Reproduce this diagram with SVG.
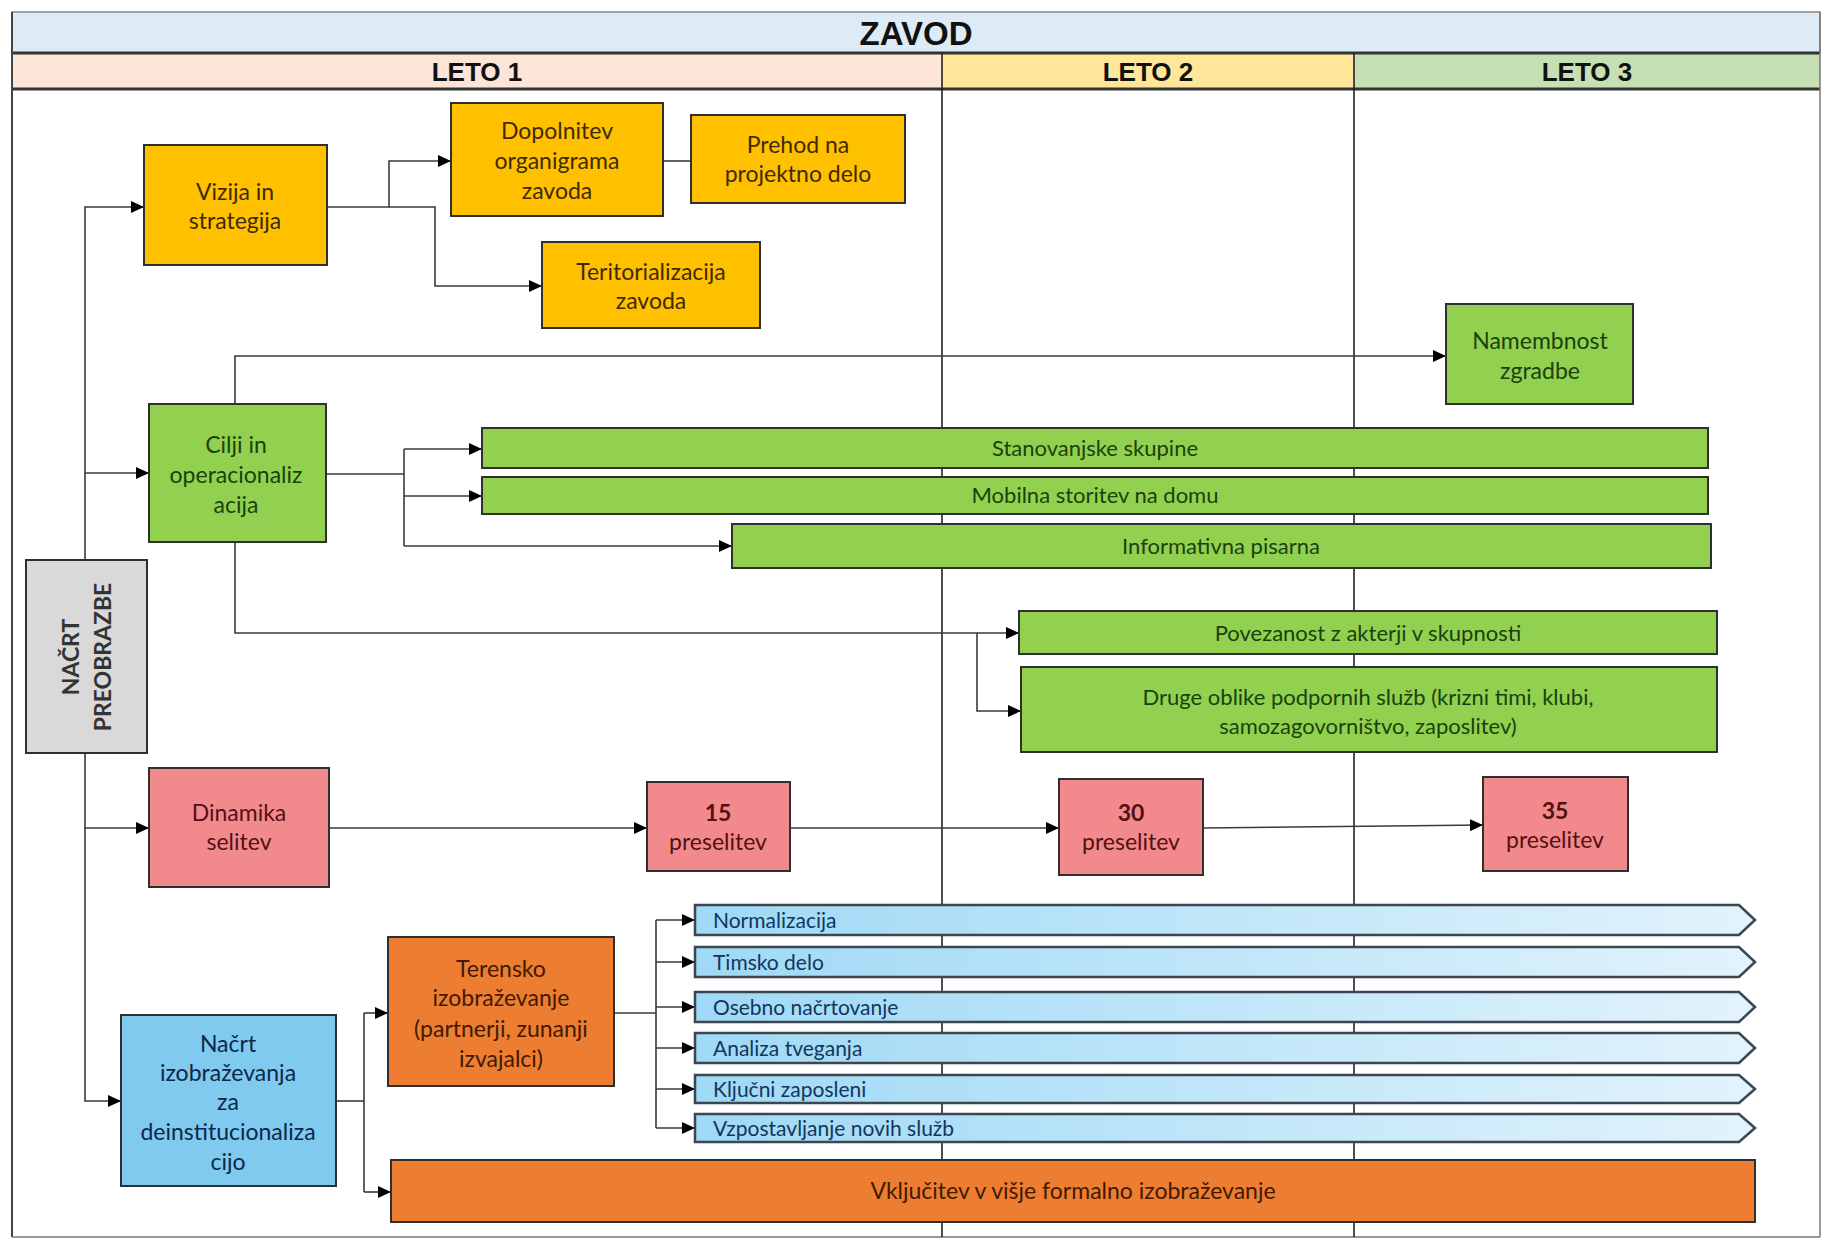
<svg xmlns="http://www.w3.org/2000/svg" width="1821" height="1239" viewBox="0 0 1821 1239">
<style>
.box{stroke:#2f2f2f;stroke-width:2}
.y{fill:#ffc000}
.g{fill:#92d050}
.p{fill:#f28a8d}
.o{fill:#ed7d31}
.b{fill:#80c9ef}
.gr{fill:#d9d9d9}
.t{font-family:Lato,"Open Sans",sans-serif;font-size:23px;text-anchor:middle}
.gt{font-size:22px}
.ty{fill:#3f2b00}
.tg{fill:#1a420c}
.tp{fill:#541013}
.to{fill:#421a00}
.tb{fill:#0b2848}
.bar{font-family:Lato,"Open Sans",sans-serif;font-size:21px;fill:#103660}
.hd{font-family:"Liberation Sans",Arial,sans-serif;font-weight:bold;text-anchor:middle;fill:#111}
.c{fill:none;stroke:#3a3a3a;stroke-width:1.6}
.ca{fill:none;stroke:#3a3a3a;stroke-width:1.6;marker-end:url(#ah)}
.grid{stroke:#222;stroke-width:1.6}
.arrowbar{fill:url(#bg);stroke:#3c4650;stroke-width:2.5}
</style>
<defs>
<marker id="ah" markerUnits="userSpaceOnUse" markerWidth="14" markerHeight="14" refX="13" refY="6" orient="auto">
<path d="M0,0 L13,6 L0,12 Z" fill="#000"/>
</marker>
<linearGradient id="bg" x1="0" y1="0" x2="1" y2="0">
<stop offset="0" stop-color="#9fd9f5"/>
<stop offset="1" stop-color="#e2f3fc"/>
</linearGradient>
</defs>
<rect x="0" y="0" width="1821" height="1239" fill="#fff"/>
<g id="header">
<rect x="12" y="12" width="1808" height="41" fill="#ddebf7" stroke="#888" stroke-width="1.5"/>
<text class="hd" x="916" y="45" font-size="33">ZAVOD</text>
<rect x="12" y="53" width="930" height="36" fill="#fce4d6"/>
<rect x="942" y="53" width="412" height="36" fill="#ffe699"/>
<rect x="1354" y="53" width="466" height="36" fill="#c6e0b4"/>
<line x1="12" y1="53" x2="1820" y2="53" stroke="#333" stroke-width="3"/>
<line x1="12" y1="89" x2="1820" y2="89" stroke="#333" stroke-width="3"/>
<text class="hd" x="477" y="81" font-size="26">LETO 1</text>
<text class="hd" x="1148" y="81" font-size="26">LETO 2</text>
<text class="hd" x="1587" y="81" font-size="26">LETO 3</text>
</g>
<g id="frame">
<line x1="12" y1="12" x2="12" y2="1237" stroke="#444" stroke-width="2"/>
<line x1="12" y1="1237" x2="1820" y2="1237" stroke="#777" stroke-width="1.5"/>
<line x1="1820" y1="12" x2="1820" y2="1237" stroke="#777" stroke-width="1.5"/>
<line class="grid" x1="942" y1="53" x2="942" y2="1237"/>
<line class="grid" x1="1354" y1="53" x2="1354" y2="1237"/>
</g>
<g id="connectors">
<path class="ca" d="M85,560 V207 H144"/>
<path class="ca" d="M85,473 H149"/>
<path class="ca" d="M85,753 V1101 H121"/>
<path class="ca" d="M85,828 H149"/>
<path class="ca" d="M327,207 H389 V161 H451"/>
<path class="ca" d="M389,207 H435 V286 H542"/>
<path class="c" d="M663,161 H691"/>
<path class="ca" d="M235,404 V356 H1446"/>
<path class="c" d="M326,474 H404"/>
<path class="c" d="M404,449 V546"/>
<path class="ca" d="M404,449 H482"/>
<path class="ca" d="M404,496 H482"/>
<path class="ca" d="M404,546 H732"/>
<path class="ca" d="M235,542 V633 H1019"/>
<path class="ca" d="M977,633 V711 H1021"/>
<path class="ca" d="M329,828 H647"/>
<path class="ca" d="M790,828 H1059"/>
<path class="ca" d="M1203,828 L1483,825"/>
<path class="c" d="M336,1101 H364"/>
<path class="c" d="M364,1013 V1192"/>
<path class="ca" d="M364,1013 H388"/>
<path class="ca" d="M364,1192 H391"/>
<path class="c" d="M614,1013 H656"/>
<path class="c" d="M656,920 V1128"/>
<path class="ca" d="M656,920 H695"/>
<path class="ca" d="M656,962 H695"/>
<path class="ca" d="M656,1007 H695"/>
<path class="ca" d="M656,1048 H695"/>
<path class="ca" d="M656,1089 H695"/>
<path class="ca" d="M656,1128 H695"/>
</g>
<g id="vizija"><rect class="box y" x="144" y="145" width="183" height="120"/>
<text class="t ty" x="235" y="200">Vizija in</text><text class="t ty" x="235" y="229">strategija</text></g>
<g id="dopolnitev"><rect class="box y" x="451" y="103" width="212" height="113"/>
<text class="t ty" x="557" y="139">Dopolnitev</text><text class="t ty" x="557" y="169">organigrama</text><text class="t ty" x="557" y="199">zavoda</text></g>
<g id="prehod"><rect class="box y" x="691" y="115" width="214" height="88"/>
<text class="t ty" x="798" y="153">Prehod na</text><text class="t ty" x="798" y="182">projektno delo</text></g>
<g id="teritorializacija"><rect class="box y" x="542" y="242" width="218" height="86"/>
<text class="t ty" x="651" y="280">Teritorializacija</text><text class="t ty" x="651" y="309">zavoda</text></g>
<g id="namembnost"><rect class="box g" x="1446" y="304" width="187" height="100"/>
<text class="t tg" x="1540" y="349">Namembnost</text><text class="t tg" x="1540" y="379">zgradbe</text></g>
<g id="cilji"><rect class="box g" x="149" y="404" width="177" height="138"/>
<text class="t tg" x="236" y="453">Cilji in</text><text class="t tg" x="236" y="483">operacionaliz</text><text class="t tg" x="236" y="513">acija</text></g>
<g id="stanovanjske"><rect class="box g" x="482" y="428" width="1226" height="40"/>
<text class="t tg gt" x="1095" y="456">Stanovanjske skupine</text></g>
<g id="mobilna"><rect class="box g" x="482" y="477" width="1226" height="37"/>
<text class="t tg gt" x="1095" y="503">Mobilna storitev na domu</text></g>
<g id="informativna"><rect class="box g" x="732" y="524" width="979" height="44"/>
<text class="t tg gt" x="1221" y="554">Informativna pisarna</text></g>
<g id="povezanost"><rect class="box g" x="1019" y="611" width="698" height="43"/>
<text class="t tg gt" x="1368" y="641">Povezanost z akterji v skupnosti</text></g>
<g id="druge"><rect class="box g" x="1021" y="667" width="696" height="85"/>
<text class="t tg gt" x="1368" y="705">Druge oblike podpornih služb (krizni timi, klubi,</text><text class="t tg gt" x="1368" y="734">samozagovorništvo, zaposlitev)</text></g>
<g id="nacrt-preobrazbe"><rect class="box gr" x="26" y="560" width="121" height="193"/>
<g transform="translate(86,657) rotate(-90)"><text class="t" x="0" y="-7" font-weight="bold" fill="#333">NAČRT</text><text class="t" x="0" y="25" font-weight="bold" fill="#333">PREOBRAZBE</text></g></g>
<g id="dinamika"><rect class="box p" x="149" y="768" width="180" height="119"/>
<text class="t tp" x="239" y="821">Dinamika</text><text class="t tp" x="239" y="850">selitev</text></g>
<g id="p15"><rect class="box p" x="647" y="782" width="143" height="89"/>
<text class="t tp" x="718" y="821" font-weight="bold">15</text><text class="t tp" x="718" y="850">preselitev</text></g>
<g id="p30"><rect class="box p" x="1059" y="779" width="144" height="96"/>
<text class="t tp" x="1131" y="821" font-weight="bold">30</text><text class="t tp" x="1131" y="850">preselitev</text></g>
<g id="p35"><rect class="box p" x="1483" y="777" width="145" height="94"/>
<text class="t tp" x="1555" y="819" font-weight="bold">35</text><text class="t tp" x="1555" y="848">preselitev</text></g>
<g id="normalizacija"><path class="arrowbar" d="M695,905 H1739 L1755,920 L1739,935 H695 Z"/><text class="bar" x="713" y="928">Normalizacija</text></g>
<g id="timsko"><path class="arrowbar" d="M695,947 H1739 L1755,962 L1739,977 H695 Z"/><text class="bar" x="713" y="970">Timsko delo</text></g>
<g id="osebno"><path class="arrowbar" d="M695,992 H1739 L1755,1007 L1739,1022 H695 Z"/><text class="bar" x="713" y="1015">Osebno načrtovanje</text></g>
<g id="analiza"><path class="arrowbar" d="M695,1033 H1739 L1755,1048 L1739,1063 H695 Z"/><text class="bar" x="713" y="1056">Analiza tveganja</text></g>
<g id="kljucni"><path class="arrowbar" d="M695,1075 H1739 L1755,1089 L1739,1103 H695 Z"/><text class="bar" x="713" y="1097">Ključni zaposleni</text></g>
<g id="vzpostavljanje"><path class="arrowbar" d="M695,1114 H1739 L1755,1128 L1739,1142 H695 Z"/><text class="bar" x="713" y="1136">Vzpostavljanje novih služb</text></g>
<g id="terensko"><rect class="box o" x="388" y="937" width="226" height="149"/>
<text class="t to" x="501" y="977">Terensko</text><text class="t to" x="501" y="1006">izobraževanje</text><text class="t to" x="501" y="1037">(partnerji, zunanji</text><text class="t to" x="501" y="1067">izvajalci)</text></g>
<g id="nacrt-izobrazevanja"><rect class="box b" x="121" y="1015" width="215" height="171"/>
<text class="t tb" x="228" y="1052">Načrt</text><text class="t tb" x="228" y="1081">izobraževanja</text><text class="t tb" x="228" y="1110">za</text><text class="t tb" x="228" y="1140">deinstitucionaliza</text><text class="t tb" x="228" y="1170">cijo</text></g>
<g id="vkljucitev"><rect class="box o" x="391" y="1160" width="1364" height="62"/>
<text class="t to" x="1073" y="1199">Vključitev v višje formalno izobraževanje</text></g>
</svg>
